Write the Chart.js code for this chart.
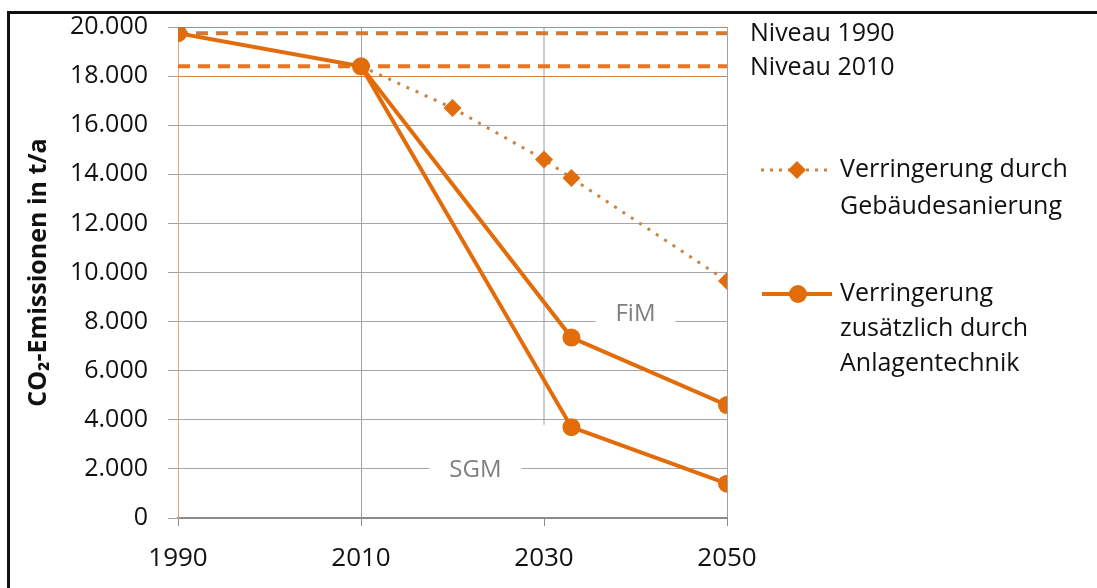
<!DOCTYPE html>
<html>
<head>
<meta charset="utf-8">
<script src="https://cdn.jsdelivr.net/npm/chart.js@4/dist/chart.umd.min.js"></script>
<style>
  body { margin: 0; background: #fff; }
  #wrap { position: relative; width: 1097px; height: 588px; }
  #frame { position: absolute; left: 7px; top: 11px; right: 0; bottom: 0;
           border-left: 3px solid #111; border-top: 3px solid #111; pointer-events: none; }
</style>
</head>
<body>
<div id="wrap">
  <canvas id="co2-chart" width="1097" height="588"></canvas>
  <div id="frame"></div>
</div>
<script>
const xTicks = [1990, 2010, 2030, 2050];

const gebYears = [2010, 2020, 2030, 2033, 2050];
const gebValues = [18400, 16700, 14600, 13850, 9650];

const fimYears = [1990, 2010, 2033, 2050];
const fimValues = [19750, 18400, 7350, 4600];

const sgmYears = [2010, 2033, 2050];
const sgmValues = [18400, 3700, 1400];

const niveauYears = [1990, 2050];
const niveau1990 = 19750;
const niveau2010 = 18400;

const niveauLabels = ["Niveau 1990", "Niveau 2010"];
const legendGeb = ["Verringerung durch", "Gebäudesanierung"];
const legendAnl = ["Verringerung", "zusätzlich durch", "Anlagentechnik"];
const areaNotes = [
  { x: 2040, y: 8300, text: "FiM" },
  { x: 2022.5, y: 1950, text: "SGM" }
];

const ORANGE = "#e36c0a";
const DOTTED = "#c98443";
const FONT = "'Open Sans', 'Liberation Sans', sans-serif";

function pts(xs, ys) {
  return xs.map((x, i) => ({ x: x, y: ys[i] }));
}

function fmtDE(v) {
  return String(v).replace(/\B(?=(\d{3})+(?!\d))/g, ".");
}

const overlayPlugin = {
  id: "overlay",
  beforeDatasetsDraw(chart) {
    const { ctx, scales: { x, y } } = chart;
    ctx.save();
    ctx.font = "24px " + FONT;
    ctx.textAlign = "center";
    ctx.textBaseline = "middle";
    areaNotes.forEach(n => {
      const px = x.getPixelForValue(n.x);
      const py = y.getPixelForValue(n.y);
      const w = ctx.measureText(n.text).width + 40;
      ctx.fillStyle = "#fff";
      ctx.fillRect(px - w / 2, py - 16, w, 32);
      ctx.fillStyle = "#7f7f7f";
      ctx.fillText(n.text, px, py);
    });
    ctx.restore();
  },
  afterDraw(chart) {
    const { ctx, chartArea, scales: { y } } = chart;
    ctx.save();
    ctx.fillStyle = "#111";
    ctx.font = "25px " + FONT;
    ctx.textAlign = "left";
    ctx.textBaseline = "middle";
    const lx = chartArea.right + 23;
    ctx.fillText(niveauLabels[0], lx, y.getPixelForValue(niveau1990) + 1);
    ctx.fillText(niveauLabels[1], lx, y.getPixelForValue(niveau2010) + 2);

    // legend: dotted line with diamond
    const tx = 840;
    let ly = 170;
    ctx.strokeStyle = DOTTED;
    ctx.lineWidth = 3;
    ctx.setLineDash([3, 6]);
    ctx.beginPath();
    ctx.moveTo(761, ly);
    ctx.lineTo(830, ly);
    ctx.stroke();
    ctx.setLineDash([]);
    ctx.fillStyle = ORANGE;
    ctx.beginPath();
    ctx.moveTo(797, ly - 9);
    ctx.lineTo(806, ly);
    ctx.lineTo(797, ly + 9);
    ctx.lineTo(788, ly);
    ctx.closePath();
    ctx.fill();
    ctx.fillStyle = "#111";
    legendGeb.forEach((t, i) => ctx.fillText(t, tx, ly + i * 37));

    // legend: solid line with circle
    ly = 294;
    ctx.strokeStyle = ORANGE;
    ctx.lineWidth = 4;
    ctx.beginPath();
    ctx.moveTo(762, ly);
    ctx.lineTo(832, ly);
    ctx.stroke();
    ctx.fillStyle = ORANGE;
    ctx.beginPath();
    ctx.arc(798, ly, 9, 0, Math.PI * 2);
    ctx.fill();
    ctx.fillStyle = "#111";
    legendAnl.forEach((t, i) => ctx.fillText(t, tx, ly + i * 35));
    ctx.restore();
  }
};

new Chart(document.getElementById("co2-chart"), {
  type: "line",
  data: {
    datasets: [
      {
        label: "Verringerung zusätzlich durch Anlagentechnik",
        data: pts(fimYears, fimValues),
        borderColor: ORANGE,
        backgroundColor: ORANGE,
        borderWidth: 4,
        pointRadius: 9,
        pointBorderWidth: 0
      },
      {
        label: "Verringerung zusätzlich durch Anlagentechnik (SGM)",
        data: pts(sgmYears, sgmValues),
        borderColor: ORANGE,
        backgroundColor: ORANGE,
        borderWidth: 4,
        pointRadius: [0, 9, 9],
        pointBorderWidth: 0
      },
      {
        label: "Verringerung durch Gebäudesanierung",
        data: pts(gebYears, gebValues),
        borderColor: DOTTED,
        backgroundColor: ORANGE,
        borderWidth: 3,
        borderDash: [3, 7],
        pointStyle: "rectRot",
        pointRadius: [0, 9, 9, 9, 9],
        pointBorderWidth: 0
      },
      {
        label: "Niveau 1990",
        data: pts(niveauYears, [niveau1990, niveau1990]),
        borderColor: "#d27a32",
        borderWidth: 4,
        borderDash: [12, 8],
        borderDashOffset: -18,
        pointRadius: 0
      },
      {
        label: "Niveau 2010",
        data: pts(niveauYears, [niveau2010, niveau2010]),
        borderColor: "#ea7420",
        borderWidth: 4,
        borderDash: [12, 8],
        pointRadius: 0
      },
      {
        label: "2030",
        data: pts([2030, 2030], [3800, 20000]),
        borderColor: "#9a9aa6",
        borderWidth: 1,
        pointRadius: 0
      }
    ]
  },
  options: {
    responsive: false,
    animation: false,
    devicePixelRatio: 1,
    layout: { padding: { top: 27, right: 370, bottom: 0, left: 0 } },
    plugins: { legend: { display: false }, tooltip: { enabled: false } },
    scales: {
      x: {
        type: "linear",
        min: 1990,
        max: 2050,
        afterFit: s => { s.height = 70; },
        afterBuildTicks: s => { s.ticks = xTicks.map(v => ({ value: v })); },
        ticks: {
          color: "#111",
          font: { family: FONT, size: 26 },
          padding: 17,
          maxRotation: 0,
          callback: v => String(v)
        },
        grid: {
          color: c => c.tick && c.tick.value === 1990 ? "#e4a878"
            : c.tick && c.tick.value === 2030 ? "rgba(0,0,0,0)" : "#a0a0aa",
          tickColor: "#8c8c8c",
          tickLength: 8,
          lineWidth: 1
        },
        border: { color: "#8c8c8c", width: 2 }
      },
      y: {
        min: 0,
        max: 20000,
        afterFit: s => { s.width = 178; s.paddingTop = 12; s.paddingBottom = 12; },
        ticks: {
          stepSize: 2000,
          color: "#111",
          font: { family: FONT, size: 25 },
          padding: 20,
          callback: v => fmtDE(v)
        },
        grid: {
          color: c => c.tick && (c.tick.value === 18000 || c.tick.value === 20000) ? "#c8864a" : "#a5a5ad",
          tickColor: "#a0a0a0",
          tickLength: 10,
          lineWidth: 1
        },
        border: { color: "#e4a878", width: 1 },
        title: {
          display: true,
          text: "CO₂-Emissionen in t/a",
          color: "#111",
          font: { family: FONT, size: 25, weight: "bold" },
          padding: { top: 24, bottom: 0 }
        }
      }
    }
  },
  plugins: [overlayPlugin]
});
</script>
</body>
</html>
